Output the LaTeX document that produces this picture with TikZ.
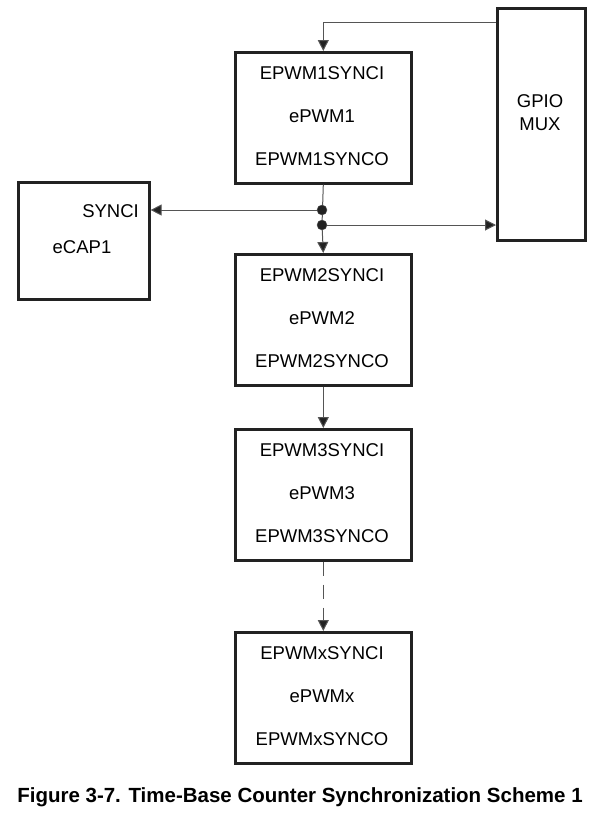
\documentclass[tikz,border=0pt]{standalone}
\usepackage{fontspec}
\setmainfont{Liberation Sans}
\usetikzlibrary{arrows.meta}
\definecolor{boxline}{HTML}{222222}
\definecolor{wire}{HTML}{555555}
\tikzset{
  blk/.style={draw=boxline, line width=2.6pt, inner sep=0pt},
  lbl/.style={font=\fontsize{18.5}{20}\selectfont, inner sep=0pt, anchor=center},
  wireln/.style={draw=wire, line width=1pt, -{Triangle[length=11pt,width=11pt,fill=boxline]}},
  wiredash/.style={wireln, dash pattern=on 14pt off 9pt},
  dotn/.style={circle, fill=boxline, draw=wire, minimum size=10pt, inner sep=0pt},
}
\begin{document}
\begin{tikzpicture}[x=1pt,y=-1pt]
\useasboundingbox (0,0) rectangle (603,817);
% ePWM boxes
\foreach \n/\t/\k in {1/51/1, 2/253/2, 3/428/3, x/631/x}{
  \node[blk, minimum width=176pt, minimum height=131pt, anchor=north west] (p\n) at (234,\t) {};
  \node[lbl] (pi\n) at (322,\t+22) {EPWM\k SYNCI};
  \node[lbl] (pm\n) at (322,\t+65) {ePWM\k};
  \node[lbl] (po\n) at (322,\t+108) {EPWM\k SYNCO};
}
% GPIO MUX
\node[blk, minimum width=88pt, minimum height=232pt, anchor=north west] (gpio) at (496,7) {};
\node[lbl] (gpiot1) at (540,101) {GPIO};
\node[lbl] (gpiot2) at (540,124) {MUX};
% eCAP1
\node[blk, minimum width=131pt, minimum height=117pt, anchor=north west] (ecap) at (17,181) {};
\node[lbl, anchor=east] (synci) at (139,211) {SYNCI};
\node[lbl] (ecapt) at (82,247) {eCAP1};
% junctions
\coordinate (d1c) at (322,210);
\coordinate (d2c) at (322,225);
\coordinate (gtop) at (gpio.west |- 0,22);
\coordinate (gmid) at (gpio.west |- 0,225);
% connectors
\draw[wireln] (gtop) -| (p1.north);
\draw[draw=wire, line width=1pt] (p1.south) -- (d2c);
\draw[wireln] (d1c) -- (ecap.east |- d1c);
\draw[wireln] (d2c) -- (gmid);
\draw[wireln] (d2c) -- (p2.north);
\draw[wireln] (p2.south) -- (p3.north);
\draw[wiredash] (p3.south) -- (px.north);
\node[dotn] (d1) at (d1c) {};
\node[dotn] (d2) at (d2c) {};
% caption
\node[font=\bfseries\fontsize{20.5}{22}\selectfont, inner sep=0pt] (cap) at (300,797) {Figure 3-7. Time-Base Counter Synchronization Scheme 1};
\end{tikzpicture}
\end{document}
